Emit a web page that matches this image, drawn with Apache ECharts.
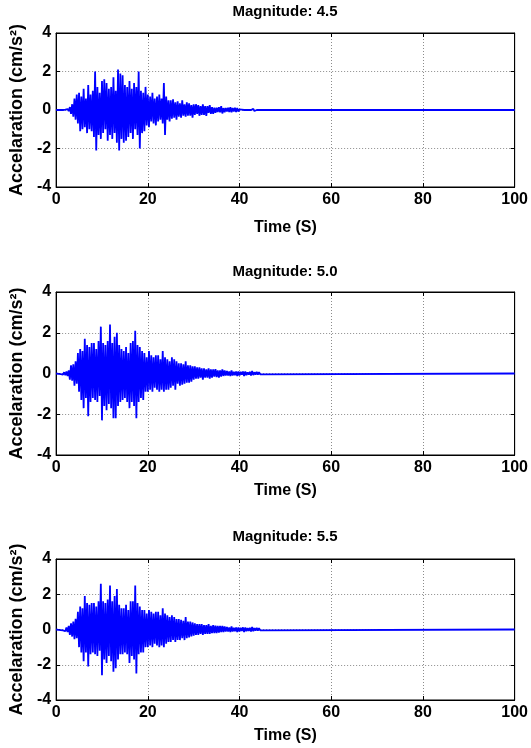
<!DOCTYPE html>
<html>
<head>
<meta charset="utf-8">
<title></title>
<script src="https://cdn.jsdelivr.net/npm/echarts@6/dist/echarts.min.js"></script>
<style>
	html, body { margin: 0; padding: 0; background: #fff; }
	#main { width: 531px; height: 748px; }
</style>
</head>
<body>
<div id="main"></div>
<script>
	// sample spacing of the records (s), record end
	var t0 = 0, dt = 0.25, tEnd = 100;
	var titles = ['Magnitude: 4.5', 'Magnitude: 5.0', 'Magnitude: 5.5'];

	// acceleration (cm/s^2), 4 samples per second from t = 0 to 44.75 s
	var accel45 = [
		0,0,0,0, 0,0,0,0,
		0.02,-0.03,0.05,-0.06, 0.15,-0.2,0.3,-0.35,
		0.6,-0.5,0.8,-0.7, 0.9,-1.1,0.7,-1.0,
		1.1,-0.9,0.6,-1.2, 1.3,-1.0,0.8,-1.1,
		1.0,-1.4,2.0,-2.1, 1.2,-1.3,0.9,-1.5,
		1.5,-1.2,1.6,-1.0, 1.4,-1.6,1.1,-1.3,
		1.2,-1.5,1.7,-1.2, 1.0,-1.7,2.1,-2.1,
		1.9,-1.5,1.8,-1.7, 1.3,-1.6,1.2,-1.4,
		1.5,-1.2,1.1,-1.5, 1.4,-1.0,1.2,-1.3,
		2.0,-2.0,1.0,-1.2, 0.9,-1.1,1.2,-0.8,
		0.8,-0.9,0.7,-0.6, 0.9,-0.7,0.6,-0.8,
		0.7,-0.6,0.8,-0.5, 0.6,-0.7,1.4,-1.3,
		0.7,-0.5,0.5,-0.6, 0.5,-0.45,0.55,-0.4,
		0.4,-0.5,0.45,-0.35, 0.35,-0.4,0.5,-0.3,
		0.3,-0.35,0.4,-0.3, 0.35,-0.3,0.25,-0.4,
		0.3,-0.25,0.3,-0.2, 0.25,-0.3,0.2,-0.25,
		0.3,-0.25,0.2,-0.3, 0.2,-0.15,0.25,-0.2,
		0.15,-0.2,0.12,-0.15, 0.12,-0.1,0.15,-0.12,
		0.2,-0.18,0.1,-0.12, 0.1,-0.08,0.12,-0.1,
		0.15,-0.12,0.1,-0.08, 0.12,-0.1,0.1,-0.08,
		0.03,-0.02,0.02,-0.02, 0,0,0,0,
		0,0,0,0, 0.06,-0.05,0,0,
		0,0,0,0
	];
	var accel50 = [
		0,0.02,-0.02,0.03, -0.03,0.04,-0.05,0.06,
		-0.08,0.1,-0.12,0.15, -0.3,0.4,-0.35,0.45,
		-0.6,0.6,-0.5,1.0, -0.9,1.2,-1.3,1.1,
		-1.7,1.7,-1.2,1.4, -2.1,1.3,-1.4,1.5,
		-1.2,1.5,-1.3,1.2, -1.4,1.6,-1.1,2.3,
		-2.3,1.5,-1.6,1.4, -1.8,1.6,-1.5,2.4,
		-1.7,1.5,-2.2,1.8, -2.2,2.0,-1.6,1.4,
		-1.4,1.2,-1.3,1.1, -1.2,1.3,-1.4,1.0,
		-1.7,1.5,-1.4,1.6, -1.6,2.1,-2.2,1.4,
		-1.4,1.3,-1.2,1.1, -1.3,1.0,-0.9,0.8,
		-0.9,1.1,-0.8,0.9, -0.9,0.8,-0.7,0.9,
		-0.8,0.9,-0.9,0.7, -0.8,1.1,-0.9,0.8,
		-0.8,0.7,-0.8,0.6, -0.7,0.8,-0.6,0.7,
		-0.8,0.6,-0.5,0.5, -0.6,0.5,-0.55,0.45,
		-0.5,0.6,-0.45,0.4, -0.45,0.4,-0.4,0.35,
		-0.3,0.35,-0.25,0.3, -0.25,0.3,-0.2,0.25,
		-0.3,0.25,-0.2,0.2, -0.2,0.25,-0.25,0.2,
		-0.2,0.2,-0.15,0.22, -0.18,0.15,-0.2,0.15,
		-0.15,0.2,-0.12,0.15, -0.1,0.12,-0.1,0.1,
		-0.12,0.15,-0.1,0.08, -0.08,0.1,-0.12,0.1,
		-0.1,0.08,-0.06,0.1, -0.12,0.1,-0.08,0.06,
		-0.06,0.08,-0.1,0.12, -0.08,0.06,-0.05,0.08,
		-0.05,0.06,-0.04,0
	];
	var accel55 = [
		0,0.02,-0.02,0.03, -0.03,0.05,-0.05,0.06,
		-0.1,0.12,-0.15,0.2, -0.3,0.35,-0.4,0.45,
		-0.55,0.6,-0.5,1.0, -1.0,1.3,-1.3,1.2,
		-1.8,1.9,-1.3,1.5, -2.1,1.4,-1.4,1.5,
		-1.3,1.5,-1.4,1.3, -1.5,1.6,-1.2,2.6,
		-2.6,1.6,-1.7,1.5, -1.9,1.7,-1.5,2.5,
		-1.8,1.6,-2.4,1.9, -2.2,2.3,-1.7,1.4,
		-1.4,1.2,-1.4,1.2, -1.3,1.4,-1.4,1.1,
		-1.9,1.6,-1.5,1.6, -1.7,2.5,-2.5,1.5,
		-1.4,1.3,-1.3,1.1, -1.3,1.1,-1.0,0.9,
		-1.0,1.1,-0.9,1.0, -1.0,0.9,-0.8,1.0,
		-0.9,1.0,-1.0,0.8, -0.9,1.2,-1.0,0.9,
		-0.8,0.8,-0.7,0.7, -0.7,0.8,-0.6,0.7,
		-0.7,0.6,-0.6,0.6, -0.6,0.55,-0.5,0.5,
		-0.6,0.7,-0.5,0.45, -0.45,0.45,-0.4,0.4,
		-0.35,0.35,-0.3,0.3, -0.3,0.3,-0.25,0.3,
		-0.3,0.25,-0.25,0.25, -0.25,0.3,-0.25,0.2,
		-0.2,0.25,-0.2,0.22, -0.2,0.2,-0.18,0.2,
		-0.15,0.2,-0.15,0.18, -0.12,0.15,-0.12,0.12,
		-0.15,0.18,-0.12,0.1, -0.1,0.12,-0.15,0.12,
		-0.12,0.1,-0.08,0.12, -0.15,0.12,-0.1,0.08,
		-0.08,0.1,-0.12,0.15, -0.1,0.08,-0.06,0.1,
		-0.06,0.08,-0.05,0
	];
	var records = [accel45, accel50, accel55];

	var font = '"Liberation Sans", Arial, sans-serif';
	// plot boxes (px)
	var boxes = [
		{ top: 33, height: 154, nameGap: 33, titleY: 12 },
		{ top: 292, height: 163, nameGap: 28, titleY: 272 },
		{ top: 559, height: 141, nameGap: 28, titleY: 537 }
	];

	function toPairs(vals) {
		var out = vals.map(function(v, i) { return [t0 + i * dt, v]; });
		out.push([tEnd, 0]);
		return out;
	}

	var grid = [], xAxis = [], yAxis = [], series = [], graphic = [];
	var tickStyle = { inside: true, length: 4, lineStyle: { color: '#000' } };
	var labelStyle = { color: '#000', fontSize: 16, fontWeight: 'bold', fontFamily: font };
	var gridLine = { show: true, lineStyle: { color: '#8c8c8c', type: [1, 2], width: 1 } };
	var frame = { onZero: false, lineStyle: { color: '#000', width: 1 } };

	boxes.forEach(function(b, i) {
		grid.push({ left: 54, right: 15, top: b.top, height: b.height, show: true,
			borderColor: '#000', borderWidth: 1, backgroundColor: '#fff' });
		xAxis.push({
			gridIndex: i, type: 'value', min: 0, max: 100, interval: 20,
			axisLine: frame,
			axisTick: tickStyle,
			axisLabel: Object.assign({ margin: 5 }, labelStyle),
			splitLine: gridLine,
			name: 'Time (S)', nameLocation: 'middle', nameGap: b.nameGap,
			nameTextStyle: { color: '#000', fontSize: 16, fontWeight: 'bold', fontFamily: font }
		});
		xAxis.push({
			gridIndex: i, type: 'value', position: 'top', min: 0, max: 100, interval: 20,
			axisLine: frame, axisTick: tickStyle,
			axisLabel: { show: false }, splitLine: { show: false }
		});
		yAxis.push({
			gridIndex: i, type: 'value', min: -4, max: 4, interval: 2,
			axisLine: frame,
			axisTick: tickStyle,
			axisLabel: Object.assign({ margin: 5 }, labelStyle),
			splitLine: gridLine,
			name: 'Accelaration (cm/s²)', nameLocation: 'middle', nameGap: 28,
			nameTextStyle: { color: '#000', fontSize: 18, fontWeight: 'bold', fontFamily: font }
		});
		yAxis.push({
			gridIndex: i, type: 'value', position: 'right', min: -4, max: 4, interval: 2,
			axisLine: frame, axisTick: tickStyle,
			axisLabel: { show: false }, splitLine: { show: false }
		});
		series.push({
			type: 'line', xAxisIndex: 2 * i, yAxisIndex: 2 * i,
			data: toPairs(records[i]), showSymbol: false, sampling: null,
			lineStyle: { color: '#0000ff', width: 1.8 }, z: 3
		});
		graphic.push({
			type: 'text', x: 285, y: b.titleY,
			style: { text: titles[i], fill: '#000', font: 'bold 15px ' + font,
				align: 'center', verticalAlign: 'middle', textAlign: 'center', textVerticalAlign: 'middle' }
		});
	});

	var chart = echarts.init(document.getElementById('main'));
	chart.setOption({
		animation: false,
		grid: grid,
		xAxis: xAxis,
		yAxis: yAxis,
		series: series,
		graphic: graphic
	});
</script>
</body>
</html>
